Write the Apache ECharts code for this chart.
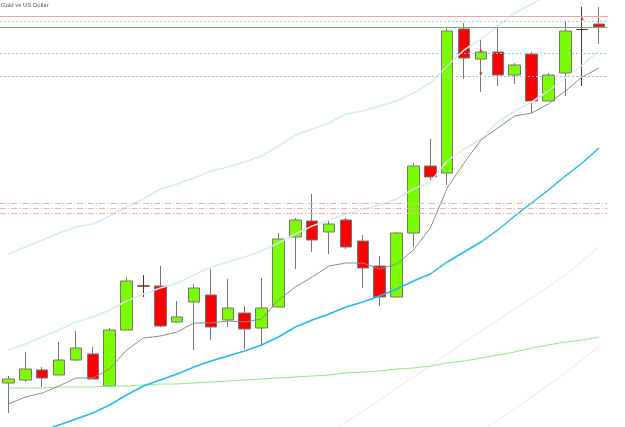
<!DOCTYPE html>
<html>
<head>
<meta charset="utf-8">
<script src="https://cdn.jsdelivr.net/npm/echarts@6/dist/echarts.min.js"></script>
<style>
  html, body { margin: 0; padding: 0; background: #fff; }
  #chart { width: 625px; height: 427px; }
</style>
</head>
<body>
<div id="chart"></div>
<script>
// bars, one per period (open, close, low, high)
let bars = [
  [44, 48, 14, 51], [47, 58, 45, 75], [57, 49, 40, 60], [52, 67, 52, 85],
  [67, 79, 66, 96], [73, 48, 48, 80], [41, 97, 40, 99], [97, 146, 97, 150],
  [141, 141, 130, 152], [141, 101, 100, 161], [105, 110, 104, 126], [125, 139, 77, 143],
  [132, 100, 87, 158], [107, 119, 100, 148], [114, 98, 78, 121], [99, 119, 82, 149],
  [120, 188, 120, 194], [190, 207, 158, 209], [206, 187, 175, 233], [195, 203, 173, 207],
  [207, 180, 178, 209], [186, 159, 139, 192], [161, 130, 121, 171], [130, 194, 130, 195],
  [194, 261, 180, 264], [261, 250, 247, 288], [254, 396, 242, 400], [398, 369, 348, 404],
  [368, 375, 335, 388], [375, 352, 341, 402], [352, 362, 343, 364], [373, 326, 314, 375],
  [326, 352, 326, 354], [354, 396, 331, 405], [397.5, 397.5, 341, 420], [403, 400, 383, 420]
]
let periods = bars.map((b, i) => String(i + 1))

// indicator lines
let maFast = [23, 30, 34, 41, 49, 49, 58, 77, 89, 91, 95, 104, 104, 106, 105, 108, 127, 140,
  150, 161, 164, 164, 158, 163, 177, 199, 239, 264, 287, 299, 311, 314, 323, 336, 350, 359]
let bandMid = [77, 83, 90, 97, 105, 110, 117, 126, 133, 139, 144, 152, 160, 165, 170, 176, 184, 193,
  201, 207, 213, 218, 222, 228, 238, 245, 266, 278, 288, 305, 316, 325, 336, 349, 362, 376]
let bandUp = [173, 180, 187, 194, 200, 203, 211, 220, 228, 238, 243, 249, 256, 260, 265, 271, 281, 292,
  298, 304, 313, 316, 321, 326, 334, 344, 361, 377, 388, 401, 414, 423, 432, 442, 452, 462]
let maMid = [-16, -10, -4, 2, 8, 14, 22, 32, 41, 47, 53, 60, 66, 71, 76, 82, 90, 100,
  107, 113, 120, 125, 131, 138, 146, 153, 165, 175, 185, 197, 211, 224, 237, 251, 264, 279]
let maSlow = [39, 39, 39, 40, 40, 40, 41, 41, 42, 43, 43, 44, 45, 46, 47, 48, 49, 50,
  51, 52, 54, 55, 56, 58, 59, 61, 64, 66, 69, 72, 75, 79, 82, 85, 87, 90]
let pinkUp = ['-', '-', '-', '-', '-', '-', '-', '-', '-', '-', '-', '-', '-', '-', '-', '-', '-', '-',
  '-', -6, 5, 16, 27, 39, 50, 61, 73, 85, 96, 107, 118, 129, 140, 152, 166, 180]
let pinkLow = ['-', '-', '-', '-', '-', '-', '-', '-', '-', '-', '-', '-', '-', '-', '-', '-', '-', '-',
  '-', '-', '-', '-', '-', '-', '-', '-', -28, -17, -5, 7, 18, 30, 42, 54, 67, 81]

// horizontal levels
let solidRed = [411]
let solidGreen = [400]
let dottedCyan = [406, 374, 351]
let dashDotPink = [224, 219, 214]

// fractal marks [period index, value]
let marks = [[28, 376], [28, 354], [34, 408]]

let levelLines = []
solidRed.forEach(v => levelLines.push({ yAxis: v, lineStyle: { color: '#f4a3a3', type: 'solid', width: 1 } }))
solidGreen.forEach(v => levelLines.push({ yAxis: v, lineStyle: { color: '#78ad78', type: 'solid', width: 1 } }))
dottedCyan.forEach(v => levelLines.push({ yAxis: v, lineStyle: { color: '#8fcfd4', type: [2, 2], width: 1 } }))
dashDotPink.forEach(v => levelLines.push({ yAxis: v, lineStyle: { color: '#f2b0ac', type: [6, 2, 1, 2], width: 1 } }))

function line(data, color, width) {
  return {
    type: 'line',
    data: data,
    symbol: 'none',
    silent: true,
    lineStyle: { color: color, width: width },
    z: 3
  }
}

let chart = echarts.init(document.getElementById('chart'))
chart.setOption({
  animation: false,
  title: {
    text: 'Gold vs US Dollar',
    left: 1,
    top: 2,
    padding: 0,
    textStyle: { fontSize: 6, color: '#555', fontWeight: 'normal', fontFamily: 'Liberation Sans' }
  },
  grid: { left: -4.5, top: 0, width: 612, height: 427 },
  xAxis: {
    type: 'category',
    data: periods,
    boundaryGap: true,
    show: false
  },
  yAxis: {
    type: 'value',
    min: 0,
    max: 427,
    show: false,
    splitLine: { show: false }
  },
  series: [
    {
      type: 'candlestick',
      data: bars,
      barWidth: 12,
      itemStyle: {
        color: '#7cfc00',
        color0: '#ff0000',
        borderColor: '#767676',
        borderColor0: '#767676',
        borderColorDoji: '#5a2c2c',
        borderWidth: 1
      },
      markLine: {
        silent: true,
        symbol: 'none',
        label: { show: false },
        data: levelLines
      },
      z: 2
    },
    line(pinkUp, '#ffddd6', 1),
    line(pinkLow, '#ffddd6', 1),
    line(maSlow, '#86ee86', 1),
    line(maMid, '#1cbcf2', 1.5),
    line(bandUp, '#d3eef3', 1.5),
    line(bandMid, '#d3eef3', 1.5),
    line(maFast, '#8c8c8c', 1),
    {
      type: 'scatter',
      data: marks,
      symbol: 'circle',
      symbolSize: 3,
      itemStyle: { color: '#f03030' },
      z: 4
    }
  ]
})
</script>
</body>
</html>
